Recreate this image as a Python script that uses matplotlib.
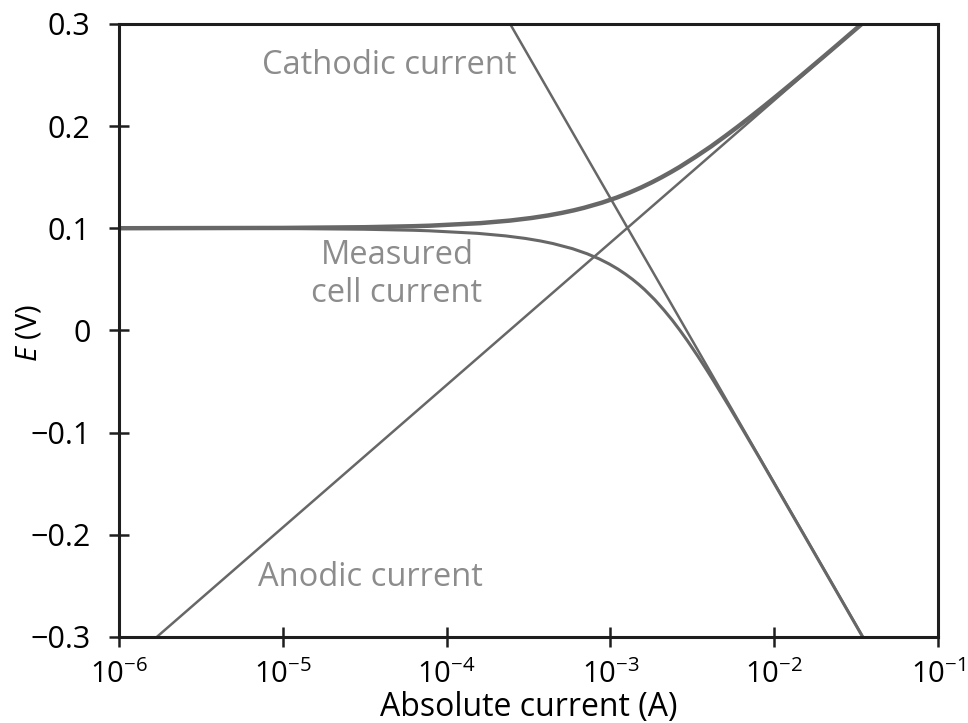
import numpy as np
import matplotlib
matplotlib.use("Agg")
import matplotlib.pyplot as plt
from matplotlib.ticker import FixedLocator, FuncFormatter

plt.rcParams['font.family'] = ['Open Sans', 'DejaVu Sans']
plt.rcParams['mathtext.fontset'] = 'custom'
plt.rcParams['mathtext.rm'] = 'Open Sans'
plt.rcParams['mathtext.it'] = 'Open Sans:italic'

anodic_i = [1.7e-6, 3.44e-2]
anodic_E = [-0.3, 0.3]
cathodic_i = [2.44e-4, 3.48e-2]
cathodic_E = [0.3, -0.3]

# measured cell current, branch above E_corr
upper_i = [1e-6, 1e-5, 3.16e-5, 6.35e-5, 7.95e-5, 1.61e-4, 2.44e-4, 3.29e-4, 4.16e-4,
           5.05e-4, 5.97e-4, 6.91e-4, 8.87e-4, 1.094e-3, 1.314e-3, 1.547e-3, 1.795e-3,
           2.06e-3, 2.344e-3, 2.65e-3, 3.32e-3, 4.11e-3, 5.01e-3, 6.07e-3, 7.30e-3,
           8.75e-3, 1.044e-2, 1.243e-2, 1.477e-2, 1.75e-2, 2.074e-2, 2.454e-2, 2.90e-2,
           3.43e-2]
upper_E = [0.1, 0.1003, 0.101, 0.102, 0.1025, 0.105, 0.1075, 0.11, 0.1125,
           0.115, 0.1175, 0.12, 0.125, 0.13, 0.135, 0.14, 0.145,
           0.15, 0.155, 0.16, 0.17, 0.18, 0.19, 0.2, 0.21,
           0.22, 0.23, 0.24, 0.25, 0.26, 0.27, 0.28, 0.29,
           0.3]

# measured cell current, branch below E_corr
lower_i = [1e-6, 1e-5, 3.14e-5, 6.25e-5, 7.79e-5, 1.543e-4, 2.29e-4, 3.03e-4, 3.75e-4,
           4.46e-4, 5.86e-4, 7.21e-4, 8.54e-4, 9.84e-4, 1.112e-3, 1.238e-3, 1.364e-3,
           1.489e-3, 1.615e-3, 1.866e-3, 2.12e-3, 2.386e-3, 2.66e-3, 2.948e-3, 3.41e-3,
           3.917e-3, 4.285e-3, 5.33e-3, 6.59e-3, 8.14e-3, 1.002e-2, 1.233e-2, 1.518e-2,
           2.296e-2, 3.47e-2]
lower_E = [0.1, 0.0997, 0.099, 0.098, 0.0975, 0.095, 0.0925, 0.09, 0.0875,
           0.085, 0.08, 0.075, 0.07, 0.065, 0.06, 0.055, 0.05,
           0.045, 0.04, 0.03, 0.02, 0.01, 0.0, -0.01, -0.025,
           -0.04, -0.05, -0.075, -0.1, -0.125, -0.15, -0.175, -0.2,
           -0.25, -0.3]

x_ticks = [1e-6, 1e-5, 1e-4, 1e-3, 1e-2, 1e-1]
y_ticks = [-0.3, -0.2, -0.1, 0, 0.1, 0.2, 0.3]

line_col = '#676767'
text_col = '#8c8c8c'

fig = plt.figure(figsize=(9.68, 7.23), dpi=100)
ax = fig.add_axes([0.123, 0.119, 0.846, 0.848])

ax.plot(anodic_i, anodic_E, color=line_col, lw=1.8, solid_capstyle='butt')
ax.plot(cathodic_i, cathodic_E, color=line_col, lw=1.8, solid_capstyle='butt')
ax.plot(lower_i, lower_E, color=line_col, lw=2.2, solid_capstyle='butt', solid_joinstyle='round')
ax.plot(upper_i, upper_E, color=line_col, lw=3.2, solid_capstyle='butt', solid_joinstyle='round')

ax.set_xscale('log')
ax.set_xlim(1e-6, 1e-1)
ax.set_ylim(-0.3, 0.3)

ax.xaxis.set_major_locator(FixedLocator(x_ticks))
ax.xaxis.set_minor_locator(FixedLocator([]))
ax.xaxis.set_major_formatter(FuncFormatter(
    lambda v, p: r'$\mathregular{10^{%d}}$' % round(np.log10(v))))
ax.yaxis.set_major_locator(FixedLocator(y_ticks))
ax.yaxis.set_major_formatter(FuncFormatter(
    lambda v, p: '0' if abs(v) < 1e-9 else ('%.1f' % v).replace('-', '\u2212')))

for s in ax.spines.values():
    s.set_linewidth(2.2)
    s.set_color('#1e1e1e')
ax.tick_params(direction='inout', length=15, width=1.8, color='#1e1e1e')
ax.tick_params(axis='y', pad=13, labelsize=22)
ax.tick_params(axis='x', pad=9, labelsize=21)

ax.set_xlabel('Absolute current (A)', fontsize=23, labelpad=1)
ax.set_ylabel(r'$\mathit{E}$ (V)', fontsize=21)
ax.yaxis.set_label_coords(-0.092, 0.496)

ax.text(7.46e-6, 0.259, 'Cathodic current', fontsize=23.5, color=text_col, ha='left', va='center')
ax.text(4.98e-5, 0.073, 'Measured', fontsize=23.5, color=text_col, ha='center', va='center')
ax.text(4.98e-5, 0.036, 'cell current', fontsize=23.5, color=text_col, ha='center', va='center')
ax.text(7.06e-6, -0.242, 'Anodic current', fontsize=23.5, color=text_col, ha='left', va='center')

fig.savefig('out.png', dpi=100)
